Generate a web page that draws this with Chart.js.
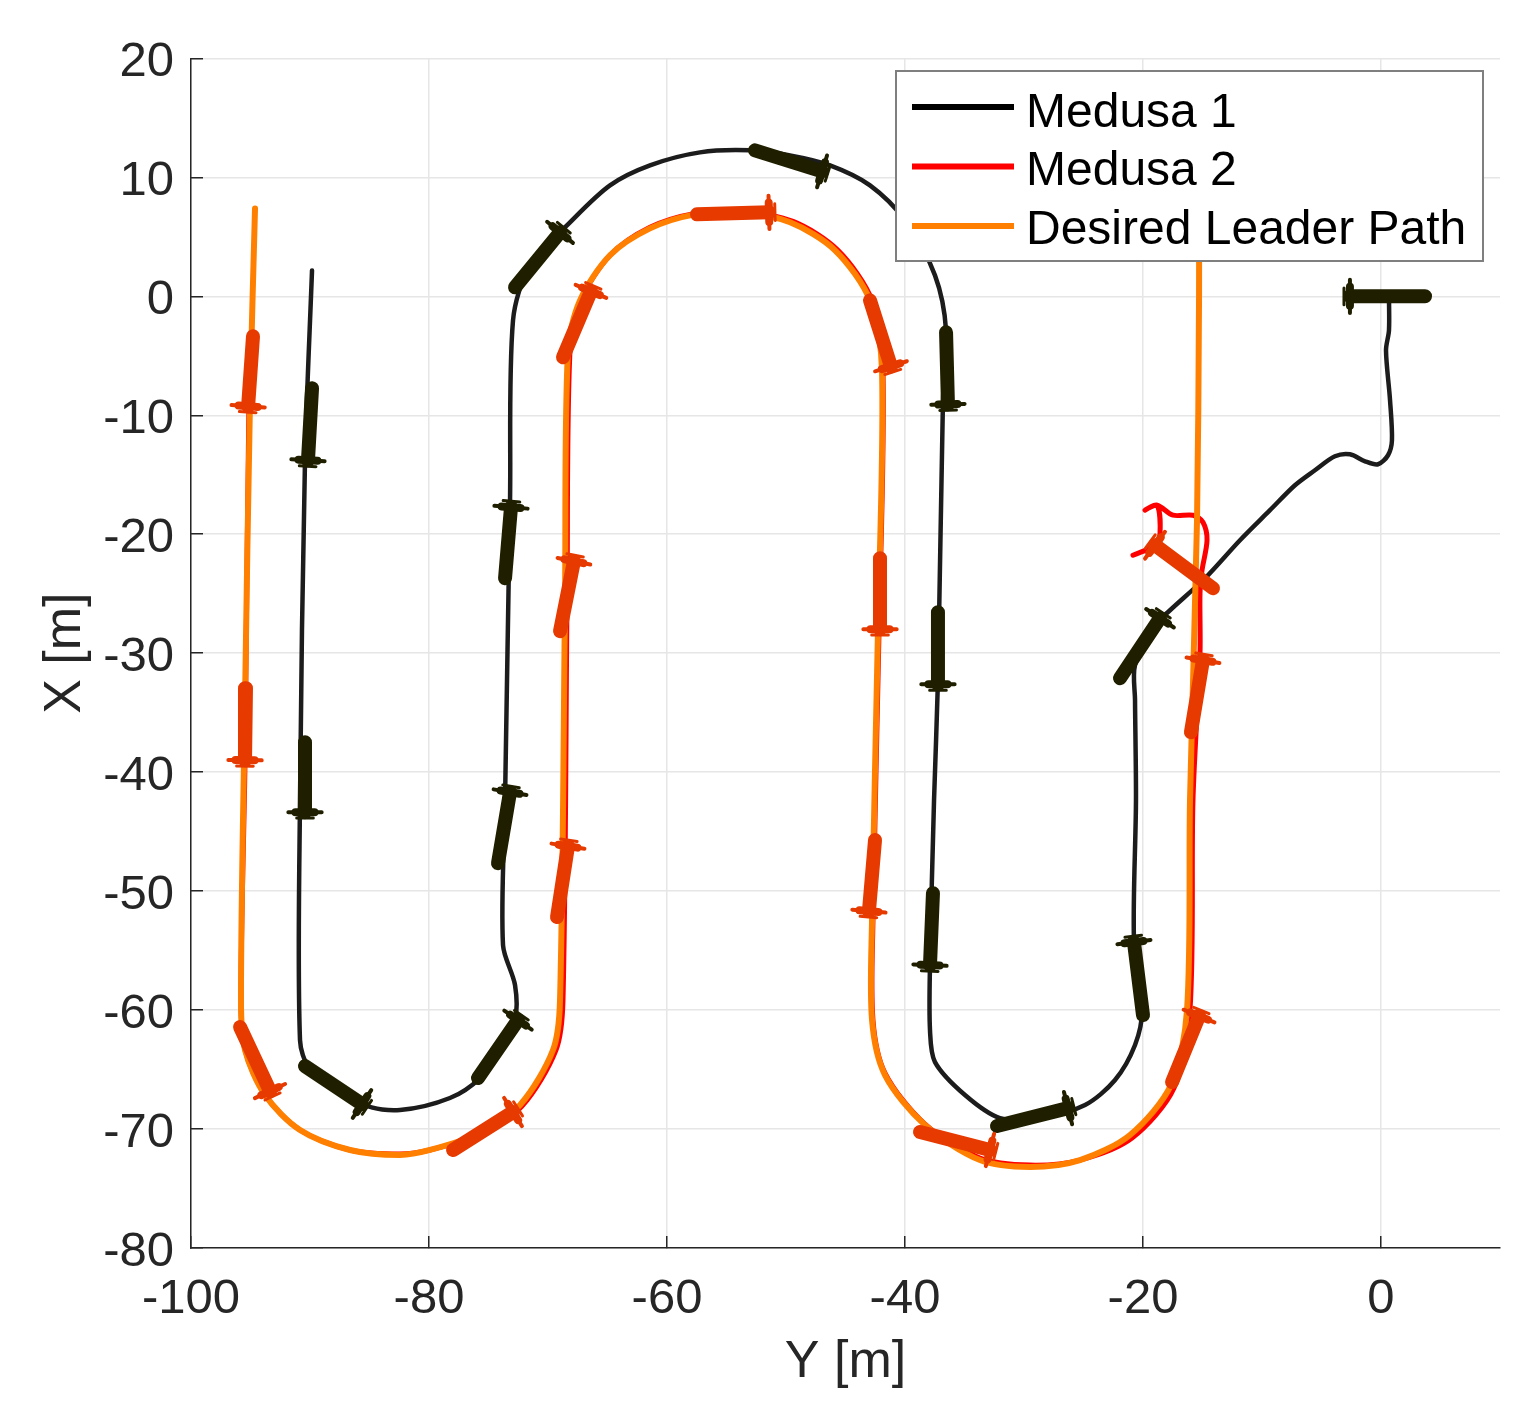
<!DOCTYPE html>
<html>
<head>
<meta charset="utf-8">
<title>Medusa paths</title>
<script src="https://cdn.jsdelivr.net/npm/chart.js@4"></script>
<style>
  body { margin: 0; background: #fff; }
  canvas { display: block; filter: blur(0.5px); }
</style>
</head>
<body>
<canvas id="pathChart" width="1534" height="1414"></canvas>
<script>
// all values in metres. each point is [Y, X]
const medusa1Path = [
  [0.67,0],[0.67,-2.86],[0.42,-4.54],[0.76,-8.74],[0.92,-12.10],[0.59,-13.36],[-0.25,-14.12],[-1.34,-13.87],
  [-2.61,-13.28],[-3.87,-13.45],[-5.55,-14.62],[-7.23,-15.88],[-9.33,-17.98],[-11.85,-20.50],[-14.79,-23.70],
  [-17.73,-26.39],[-18.99,-27.65],[-20.67,-31.01],[-20.67,-33.95],[-20.59,-42.35],[-20.76,-54.12],[-20.08,-60.0],
  [-20.67,-62.94],[-22.35,-65.88],[-24.87,-67.98],[-28.66,-69.08],[-32.02,-69.08],[-34.96,-67.14],[-37.48,-64.37],
  [-37.90,-61.68],[-37.90,-56.22],[-37.56,-42.35],[-37.23,-32.27],[-36.81,-8.74],[-36.55,-2.86],[-37.48,1.76],
  [-40.0,6.39],[-42.94,9.33],[-46.30,11.01],[-49.66,11.85],[-53.03,12.27],[-57.23,12.10],[-61.43,11.01],
  [-64.79,9.33],[-68.15,6.22],[-71.51,2.61],[-72.94,-2.02],[-73.19,-17.14],[-73.61,-42.35],[-73.78,-54.54],
  [-72.77,-57.90],[-72.77,-60.84],[-74.03,-63.36],[-75.71,-65.71],[-78.24,-67.39],[-82.44,-68.40],[-85.38,-67.98],
  [-90.0,-64.87],[-90.84,-62.52],[-90.84,-42.35],[-90.42,-13.78],[-89.83,2.18]
];

const medusa2Path = [
  [-20.84,-21.76],[-18.99,-20.92],[-18.57,-19.92],[-18.82,-17.56],[-19.83,-17.98],[-18.82,-17.56],[-17.48,-18.40],
  [-15.80,-18.40],[-14.96,-18.99],[-14.62,-20.50],[-15.04,-23.03],[-15.21,-24.96],[-15.21,-30.0],[-15.80,-42.35],
  [-16.05,-60.0],[-17.39,-66.55],[-20.92,-70.76],[-25.29,-72.61],[-29.50,-73.03],[-33.70,-72.44],[-38.32,-69.58],
  [-41.68,-65.29],[-42.69,-60.84],[-42.69,-52.44],[-42.18,-28.07],[-41.85,-6.22],[-42.77,-0.34],[-45.63,3.87],
  [-49.41,6.30],[-53.87,7.14],[-57.65,6.97],[-61.43,5.80],[-64.79,3.45],[-67.23,-0.34],[-68.15,-4.54],[-68.40,-25.55],
  [-68.74,-59.16],[-69.33,-63.36],[-72.18,-68.07],[-75.71,-70.42],[-79.92,-71.76],[-82.44,-72.10],[-86.64,-71.76],
  [-90.84,-70.08],[-93.78,-67.14],[-95.46,-63.36],[-95.80,-59.16],[-95.46,-38.99],[-95.13,-8.74],[-94.87,-3.70]
];

const leaderPath = [
  [-15.29,7.23],[-15.29,0],[-15.46,-18.82],[-16.05,-42.35],[-16.30,-60.0],[-17.65,-66.30],[-21.09,-70.50],[-25.29,-72.61],
  [-29.50,-73.19],[-33.70,-72.61],[-38.32,-69.66],[-41.68,-65.46],[-42.77,-60.84],[-42.77,-52.44],[-42.27,-28.07],
  [-41.93,-6.22],[-42.94,-0.34],[-45.88,3.87],[-49.66,6.22],[-53.87,7.06],[-57.65,6.89],[-61.43,5.71],[-64.79,3.45],
  [-67.31,-0.34],[-68.32,-4.54],[-68.57,-25.55],[-68.99,-59.16],[-69.58,-63.36],[-72.35,-67.98],[-75.71,-70.34],
  [-79.92,-71.76],[-82.44,-72.18],[-86.64,-71.76],[-90.84,-70.08],[-93.78,-67.14],[-95.46,-63.36],[-95.80,-59.16],
  [-95.46,-33.95],[-95.04,-8.74],[-94.62,7.39]
];

// vehicle snapshots: [tail Y, tail X, fin Y, fin X]
const medusa1Vehicles = [
  [3.70,0,-2.61,0],[-21.93,-32.10,-18.57,-27.06],[-20.0,-60.42,-20.76,-54.29],[-32.27,-69.75,-26.30,-68.24],
  [-37.65,-50.17,-37.90,-56.22],[-37.23,-26.55,-37.23,-32.61],[-36.55,-3.03,-36.39,-9.08],[-52.61,12.27,-46.97,10.50],
  [-72.77,0.76,-68.99,5.38],[-73.61,-23.70,-73.11,-17.73],[-74.20,-47.65,-73.19,-41.68],[-75.88,-65.71,-72.52,-60.84],
  [-90.42,-64.71,-85.63,-67.90],[-90.42,-37.48,-90.42,-43.36],[-89.83,-7.73,-90.17,-13.78]
];

const medusa2Vehicles = [
  [-14.12,-24.54,-18.99,-20.92],[-15.97,-36.64,-14.96,-30.59],[-17.56,-66.05,-15.29,-60.50],[-38.74,-70.25,-32.86,-71.76],
  [-42.52,-45.71,-43.03,-51.68],[-42.10,-22.02,-42.10,-27.98],[-42.94,-0.34,-41.18,-5.88],[-57.48,6.89,-51.43,7.06],
  [-68.74,-5.13,-66.39,0.42],[-68.99,-28.15,-67.82,-22.27],[-69.24,-52.18,-68.32,-46.22],[-77.98,-71.76,-72.94,-68.57],
  [-95.88,-61.43,-93.36,-66.81],[-95.38,-32.94,-95.46,-38.99],[-94.79,-3.36,-95.20,-9.24]
];

const legendLabels = ["Medusa 1", "Medusa 2", "Desired Leader Path"];
const legendColors = ["#000000", "#ff0000", "#ff8000"];
const textColor = "#262626";

function toPoints(path) {
  return path.map(p => ({ x: p[0], y: p[1] }));
}

// body segments, null breaks the line between vehicles
function bodyPoints(list) {
  const pts = [];
  list.forEach(v => {
    pts.push({ x: v[0], y: v[1] }, { x: v[2], y: v[3] }, { x: null, y: null });
  });
  return pts;
}

// crossing fins, placed from the direction of the body
function finPoints(list, back, span) {
  const pts = [];
  list.forEach(v => {
    const dx = v[2] - v[0], dy = v[3] - v[1];
    const len = Math.hypot(dx, dy);
    const ux = dx / len, uy = dy / len;
    const cx = v[2] + ux * back, cy = v[3] + uy * back;
    pts.push({ x: cx - uy * span, y: cy + ux * span }, { x: cx + uy * span, y: cy - ux * span }, { x: null, y: null });
  });
  return pts;
}

function lineSet(label, data, color, width, order, tension) {
  return {
    label, data, order, tension,
    borderColor: color,
    borderWidth: width,
    borderCapStyle: "round",
    borderJoinStyle: "round",
    pointRadius: 0,
    fill: false,
    spanGaps: false
  };
}

// one vehicle type: body, long thin fin, short thick fin, small rear fin
function vehicleSets(name, list, color, order) {
  return [
    lineSet(name + " body", bodyPoints(list), color, 14, order, 0),
    lineSet(name + " fins", finPoints(list, 0, 1.4), color, 4, order, 0),
    lineSet(name + " fin core", finPoints(list, 0, 0.8), color, 8, order, 0),
    lineSet(name + " rear fins", finPoints(list, 0.5, 0.7), color, 3, order, 0)
  ];
}

// legend sits over the lines, so it is drawn after the datasets
const overLegend = {
  id: "overLegend",
  afterDatasetsDraw(chart) {
    const c = chart.ctx;
    c.save();
    c.fillStyle = "#fff";
    c.strokeStyle = "#7f7f7f";
    c.lineWidth = 2;
    c.fillRect(896, 71, 587, 190);
    c.strokeRect(896, 71, 587, 190);
    c.font = "48px 'Liberation Sans'";
    c.textBaseline = "alphabetic";
    legendLabels.forEach((label, i) => {
      const y = 107 + i * 59.5;
      c.strokeStyle = legendColors[i];
      c.lineWidth = 6;
      c.beginPath();
      c.moveTo(912, y);
      c.lineTo(1014, y);
      c.stroke();
      c.fillStyle = "#000";
      c.fillText(label, 1026, 126.5 + i * 58.5);
    });
    c.restore();
  }
};

new Chart(document.getElementById("pathChart"), {
  type: "line",
  plugins: [overLegend],
  data: {
    datasets: [
      lineSet(legendLabels[0], toPoints(medusa1Path), "#1c1c1c", 4.5, 9, 0.3),
      lineSet(legendLabels[1], toPoints(medusa2Path), "#ff0000", 5, 8, 0.3),
      lineSet(legendLabels[2], toPoints(leaderPath), "#ff8000", 6, 7, 0.3),
      ...vehicleSets("Medusa 1", medusa1Vehicles, "#1f1f00", 2),
      ...vehicleSets("Medusa 2", medusa2Vehicles, "#e63a00", 1)
    ]
  },
  options: {
    responsive: false,
    animation: false,
    layout: { padding: { top: 58, right: 34, left: 0, bottom: 0 } },
    plugins: { legend: { display: false }, tooltip: { enabled: false } },
    scales: {
      x: {
        type: "linear",
        min: -100,
        max: 10,
        afterFit: s => { s.height = 166; },
        border: { color: "#262626", width: 1.5 },
        grid: { color: "#e6e6e6", lineWidth: 1.5, tickColor: "#262626", tickLength: -12, tickWidth: 1.5 },
        ticks: {
          stepSize: 20,
          includeBounds: false,
          maxRotation: 0,
          color: textColor,
          padding: 34,
          font: { family: "Liberation Sans", size: 49 }
        },
        title: {
          display: true,
          text: "Y [m]",
          color: textColor,
          padding: { top: 0, bottom: 20 },
          font: { family: "Liberation Sans", size: 52 }
        }
      },
      y: {
        type: "linear",
        min: -80,
        max: 20,
        afterFit: s => { s.width = 191; },
        border: { color: "#262626", width: 1.5 },
        grid: { color: "#e6e6e6", lineWidth: 1.5, tickColor: "#262626", tickLength: -12, tickWidth: 1.5 },
        ticks: {
          stepSize: 10,
          color: textColor,
          padding: 29,
          labelOffset: 4,
          font: { family: "Liberation Sans", size: 49 }
        },
        title: {
          display: true,
          text: "X [m]",
          color: textColor,
          padding: { top: 34, bottom: 0 },
          font: { family: "Liberation Sans", size: 52 }
        }
      }
    }
  }
});
</script>
</body>
</html>
